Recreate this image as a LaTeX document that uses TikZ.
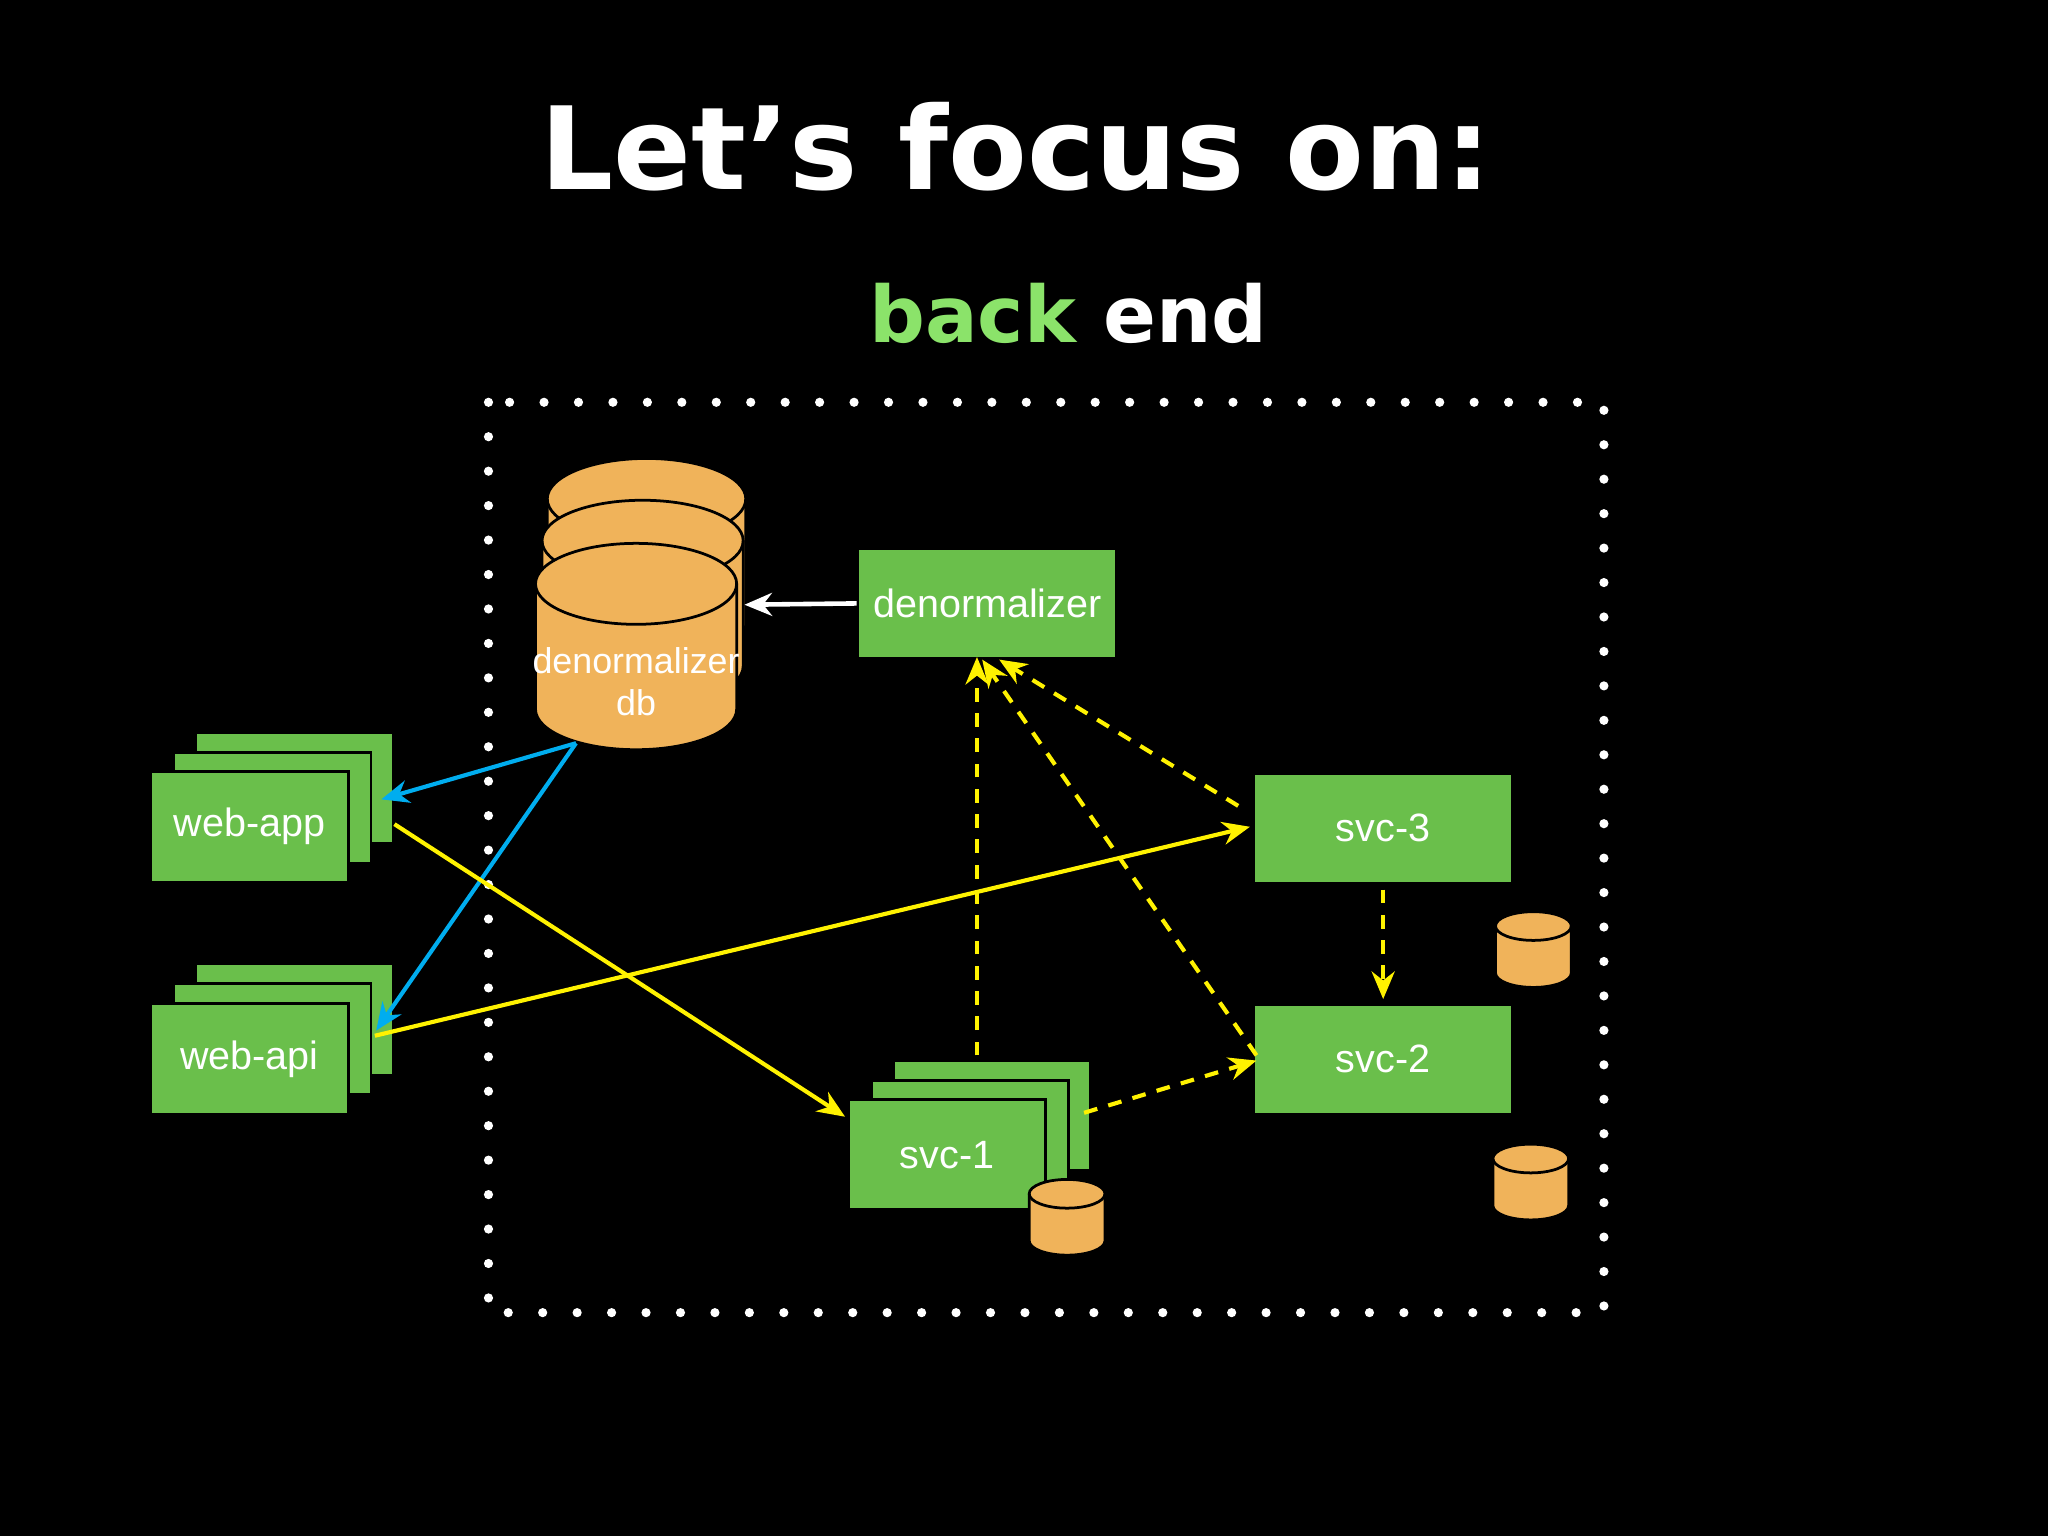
\documentclass[tikz,border=0pt]{standalone}
\usepackage{fontspec}
\setmainfont{Liberation Sans}
\newfontfamily\titlefont{DejaVu Sans}
\usetikzlibrary{arrows.meta,calc}
\definecolor{gbox}{HTML}{6ABF4B}
\definecolor{dbor}{HTML}{F0B35A}
\definecolor{lgreen}{HTML}{8BE36A}
\begin{document}
\begin{tikzpicture}[x=0.01cm,y=-0.01cm,
  box/.style={fill=gbox,draw=black,line width=0.6pt,inner sep=0pt,text=white,font=\fontsize{8.6pt}{10pt}\selectfont},
  ghost/.style={fill=gbox,draw=black,line width=0.6pt},
  yel/.style={draw=yellow,line width=0.9pt,-{Stealth[length=6pt,width=5pt]}},
  ydash/.style={yel,dash pattern=on 3pt off 2.5pt},
  cyn/.style={draw=cyan,line width=0.9pt,-{Stealth[length=6pt,width=5pt]}},
  pics/cyl/.style args={#1/#2/#3}{code={
    \fill[dbor] (-#1,0) -- (-#1,#3) arc[start angle=180,end angle=360,x radius=#1*0.01cm,y radius=#2*0.01cm] -- (#1,0) arc[start angle=0,end angle=180,x radius=#1*0.01cm,y radius=#2*0.01cm] -- cycle;
    \draw[black,line width=0.6pt] (-#1,0) -- (-#1,#3) arc[start angle=180,end angle=360,x radius=#1*0.01cm,y radius=#2*0.01cm] -- (#1,0);
    \draw[black,line width=0.6pt] (0,0) ellipse[x radius=#1*0.01cm,y radius=#2*0.01cm];
  }}]
\fill[black] (0,0) rectangle (1568,1176);
\useasboundingbox (0,0) rectangle (1568,1176);
\node[text=white,font=\titlefont\bfseries\fontsize{25pt}{30pt}\selectfont] (title) at (778,112) {Let’s focus on:};
\node[font=\titlefont\bfseries\fontsize{17pt}{20pt}\selectfont] (sub) at (818,240) {\textcolor{lgreen}{back} \textcolor{white}{end}};
\draw[white,line width=2pt,line cap=round,dash pattern=on 0pt off 7.5pt] (374,308) rectangle (1228,1005);
% db stack
\pic at (495,382) {cyl=76/31/96};
\pic at (492,414) {cyl=77/31/96};
\pic at (487,447) {cyl=77/31/96};
\node[text=white,align=center,font=\fontsize{7.8pt}{9pt}\selectfont,inner sep=0pt] (db) at (487,522) {denormalizer\\db};
\coordinate (dbin) at (570,463);
\coordinate (dbout) at (441,569);
% boxes
\node[box,minimum width=1.98cm,minimum height=0.84cm] (den) at (756,462) {denormalizer};
\node[box,minimum width=1.98cm,minimum height=0.84cm] (s3) at (1059,634) {svc-3};
\node[box,minimum width=1.98cm,minimum height=0.84cm] (s2) at (1059,811) {svc-2};
\fill[ghost] (684,812) rectangle (835,896);
\draw[black,line width=0.6pt] (684,812) rectangle (835,896);
\fill[ghost] (667,827) rectangle (818,911);
\draw[black,line width=0.6pt] (667,827) rectangle (818,911);
\node[box,minimum width=1.51cm,minimum height=0.84cm] (s1) at (725,884) {svc-1};
\foreach \y in {0,177}{
  \fill[ghost] (150,561+\y) rectangle (301,646+\y);
  \draw[black,line width=0.6pt] (150,561+\y) rectangle (301,646+\y);
  \fill[ghost] (133,576+\y) rectangle (284,661+\y);
  \draw[black,line width=0.6pt] (133,576+\y) rectangle (284,661+\y);
}
\node[box,minimum width=1.51cm,minimum height=0.85cm] (wapp) at (191,633) {web-app};
\node[box,minimum width=1.51cm,minimum height=0.85cm] (wapi) at (191,811) {web-api};
% small dbs
\pic at (1174,709) {cyl=29/11/36};
\pic at (1172,887) {cyl=29/11/36};
\pic at (817,914) {cyl=29/11/36};
% arrows
\draw[white,line width=1pt,-{Stealth[length=6pt,width=5pt]}] (den.west) -- (dbin);
\draw[cyn] (dbout) -- (292,612);
\draw[cyn] (dbout) -- (288,789);
\coordinate (wa1) at (302,631);
\coordinate (wi1) at (287,793);
\draw[yel] (wa1) -- (647,855);
\draw[yel] (wi1) -- (957,633);
\draw[ydash] (748,808) -- (748,503);
\draw[ydash] (948,617) -- (765,505);
\draw[ydash] (962,808) -- (752,505);
\draw[ydash] (830,852) -- (962,812);
\draw[ydash] ($(s3.south)+(0,4)$) -- ($(s2.north)+(0,-3)$);
\end{tikzpicture}
\end{document}
